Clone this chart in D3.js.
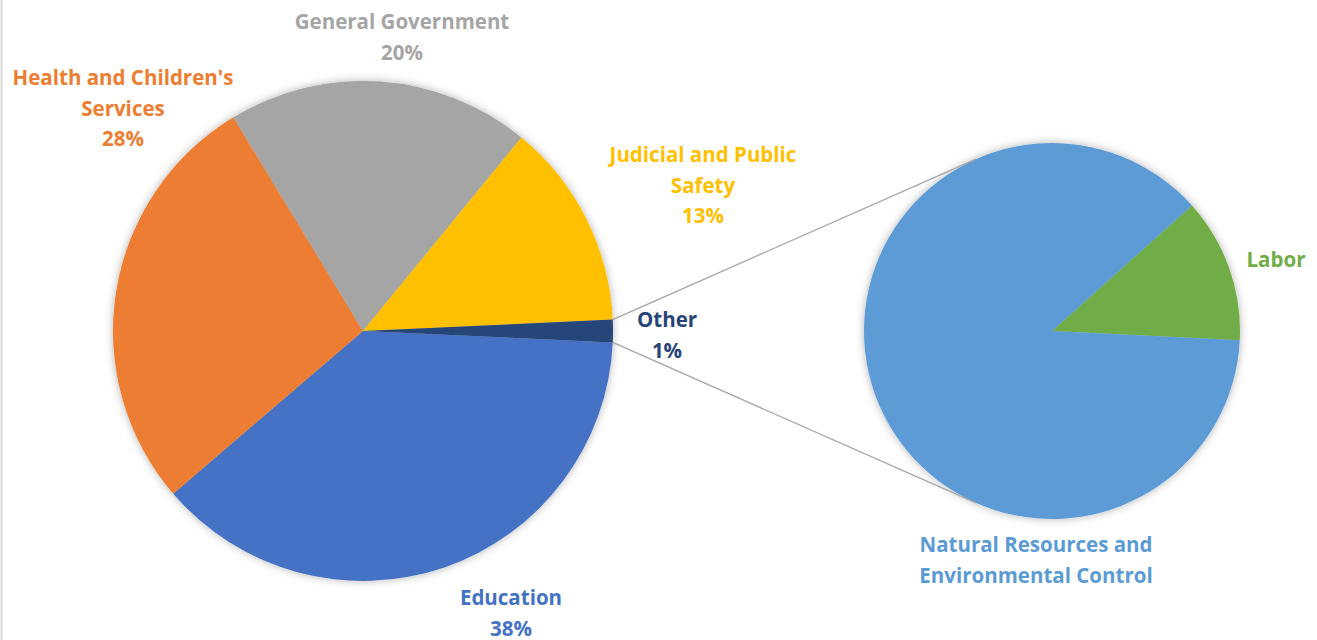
<!DOCTYPE html>
<html>
<head>
	<meta charset="utf-8">
	<script src="https://cdn.jsdelivr.net/npm/d3@7"></script>
	<style>
		*{ margin: 0; padding: 0; }
		body{ background: #fff; }
		svg text{ font-family: "Open Sans", Lato, sans-serif; font-weight: bold; }
	</style>
</head>
<body>
	<svg id="chart" width="1317" height="640"></svg>
	<script>
		// main pie (percent of total)
		var mainNames = ["Education", "Health and Children's Services", "General Government", "Judicial and Public Safety"];
		var mainValues = [38.0, 27.6, 19.6, 13.35];
		var mainColors = ["#4472C4", "#ED7D31", "#A5A5A5", "#FFC000"];
		// "Other" split out into the second pie
		var otherNames = ["Labor", "Natural Resources and Environmental Control"];
		var otherValues = [0.18, 1.27];
		var otherColors = ["#70AD47", "#5B9BD5"];
		var otherColor = "#264478";

		var W = 1317, H = 640;
		var svg = d3.select("#chart");
		var cx1 = 363, cy1 = 331, r1 = 250;
		var cx2 = 1052, cy2 = 331, r2 = 188;

		var otherTotal = d3.sum(otherValues);
		var all = mainValues.concat([otherTotal]);
		var total = d3.sum(all);
		var otherSpan = 2 * Math.PI * otherTotal / total;

		// shadow
		var defs = svg.append("defs");
		defs.append("filter").attr("id", "shadow")
			.attr("x", "-10%").attr("y", "-10%").attr("width", "120%").attr("height", "120%")
			.append("feDropShadow")
			.attr("dx", 0).attr("dy", 0).attr("stdDeviation", 4)
			.attr("flood-color", "#000").attr("flood-opacity", 0.3);

		// left edge of the frame
		svg.append("line").attr("x1", 1.5).attr("x2", 1.5).attr("y1", 0).attr("y2", H)
			.attr("stroke", "#d9d9d9").attr("stroke-width", 2);

		// main pie, "Other" centred on 3 o'clock
		var start1 = Math.PI / 2 + otherSpan / 2;
		var pie1 = d3.pie().sort(null).startAngle(start1).endAngle(start1 + 2 * Math.PI);
		var arc1 = d3.arc().innerRadius(0).outerRadius(r1);
		var colors1 = mainColors.concat([otherColor]);
		var arcs1 = pie1(all);

		var g1 = svg.append("g").attr("transform", "translate(" + cx1 + "," + cy1 + ")")
			.attr("filter", "url(#shadow)");
		g1.selectAll("path").data(arcs1).enter().append("path")
			.attr("d", arc1)
			.attr("fill", function (d, i) { return colors1[i]; });

		// second pie
		var pie2 = d3.pie().sort(null);
		var t2 = d3.sum(otherValues);
		var laborSpan = 2 * Math.PI * otherValues[0] / t2;
		var end2 = Math.PI / 2 + 2.8 * Math.PI / 180;
		pie2.startAngle(end2 - laborSpan).endAngle(end2 - laborSpan + 2 * Math.PI);
		var arc2 = d3.arc().innerRadius(0).outerRadius(r2);
		var g2 = svg.append("g").attr("transform", "translate(" + cx2 + "," + cy2 + ")")
			.attr("filter", "url(#shadow)");
		g2.selectAll("path").data(pie2(otherValues)).enter().append("path")
			.attr("d", arc2)
			.attr("fill", function (d, i) { return otherColors[i]; });

		// connector lines: edge of "Other" slice -> tangent on second pie
		var oArc = arcs1[arcs1.length - 1];
		[oArc.startAngle, oArc.endAngle].forEach(function (a, k) {
			var px = cx1 + r1 * Math.sin(a), py = cy1 - r1 * Math.cos(a);
			var dx = px - cx2, dy = py - cy2, d = Math.sqrt(dx * dx + dy * dy);
			var base = Math.atan2(dy, dx), off = Math.acos(r2 / d);
			var t = k == 0 ? base + off : base - off;
			svg.append("line")
				.attr("x1", px).attr("y1", py)
				.attr("x2", cx2 + r2 * Math.cos(t)).attr("y2", cy2 + r2 * Math.sin(t))
				.attr("stroke", "#A5A5A5").attr("stroke-width", 1.3);
		});

		function pct(v) { return Math.round(v / total * 100) + "%"; }

		// label positions
		var labels = [
			{ lines: ["Education", pct(mainValues[0])], x: 511, y: 605, c: mainColors[0] },
			{ lines: ["Health and Children's", "Services", pct(mainValues[1])], x: 123, y: 85, c: mainColors[1] },
			{ lines: ["General Government", pct(mainValues[2])], x: 402, y: 29, c: mainColors[2] },
			{ lines: ["Judicial and Public", "Safety", pct(mainValues[3])], x: 703, y: 162, c: mainColors[3] },
			{ lines: ["Other", pct(otherTotal)], x: 667, y: 327, c: otherColor },
			{ lines: ["Labor"], x: 1276, y: 267, c: otherColors[0] },
			{ lines: ["Natural Resources and", "Environmental Control"], x: 1036, y: 552, c: otherColors[1] }
		];
		labels.forEach(function (l) {
			var t = svg.append("text")
				.attr("x", l.x).attr("y", l.y)
				.attr("text-anchor", "middle")
				.attr("fill", l.c)
				.style("font-size", "20.5px");
			l.lines.forEach(function (s, i) {
				t.append("tspan").attr("x", l.x).attr("dy", i == 0 ? 0 : 30.5).text(s);
			});
		});
	</script>
</body>
</html>
